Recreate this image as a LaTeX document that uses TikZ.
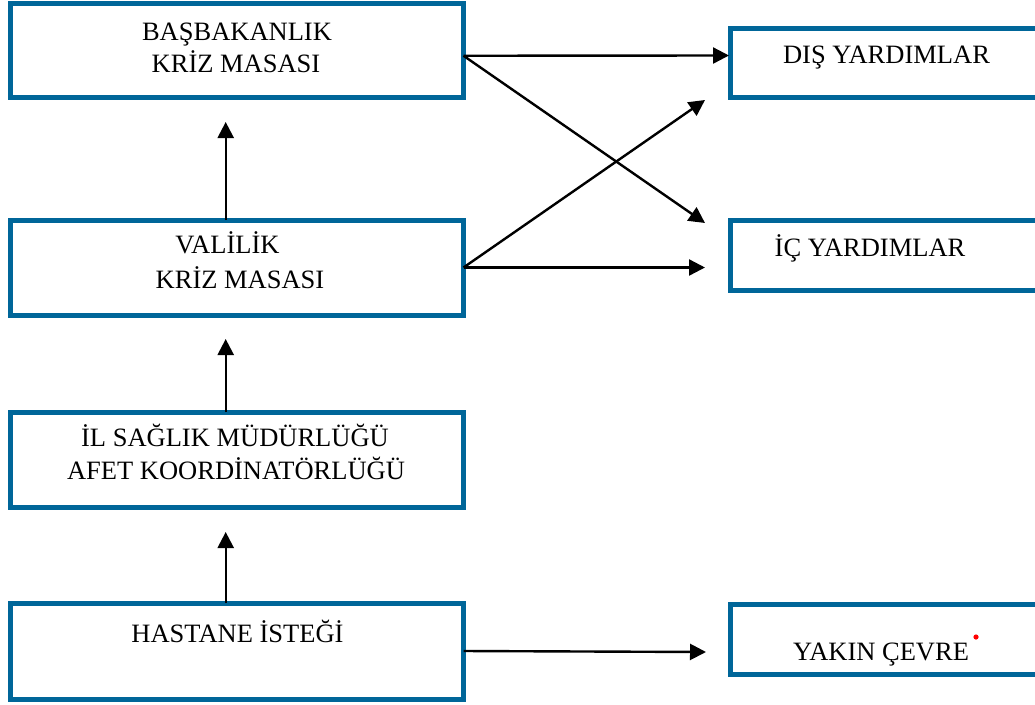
\documentclass[tikz,border=0pt]{standalone}
\usepackage{fontspec}
\setmainfont{Liberation Serif}
\usetikzlibrary{arrows.meta}
\definecolor{boxblue}{RGB}{0,102,153}
\tikzset{
  box/.style={draw=boxblue, line width=5pt, rectangle, outer sep=0pt, inner sep=0pt},
  lbox/.style={box, minimum width=453pt, minimum height=94pt},
  rbox/.style={box, minimum width=314.5pt, minimum height=70pt},
  lbl/.style={inner sep=0pt, outer sep=0pt, anchor=base, font=\fontsize{26.5}{32}\selectfont},
  arr/.style={line width=2.4pt, -{Triangle[length=16pt,width=16pt]}},
}
\begin{document}
\begin{tikzpicture}[x=1pt,y=-1pt]
\useasboundingbox (0,0) rectangle (1035,704);
\clip (0,0) rectangle (1035,704);
% left boxes
\node[lbox, minimum height=93.5pt] (b1) at (237,50.25) {};
\node[lbox, minimum height=95pt] (v) at (237,267.5) {};
\node[lbox, minimum height=95pt] (il) at (237,459.5) {};
\node[lbox, minimum height=96pt] (h) at (237,651) {};
% right boxes
\node[rbox, minimum height=69pt] (d) at (887.75,62.5) {};
\node[rbox] (i) at (887.75,255.5) {};
\node[rbox] (yk) at (887.75,639.5) {};
% labels
\node[lbl] (t1a) at (237,40) {BAŞBAKANLIK};
\node[lbl] (t1b) at (236,72) {KRİZ MASASI};
\node[lbl] (t2a) at (227.5,253) {VALİLİK};
\node[lbl] (t2b) at (240,288) {KRİZ MASASI};
\node[lbl] (t3a) at (235,446.5) {İL SAĞLIK MÜDÜRLÜĞÜ};
\node[lbl] (t3b) at (236,479) {AFET KOORDİNATÖRLÜĞÜ};
\node[lbl] (t4) at (237.5,642) {HASTANE İSTEĞİ};
\node[lbl] (td) at (886.5,63) {DIŞ YARDIMLAR};
\node[lbl] (ti) at (870,256) {İÇ YARDIMLAR};
\node[lbl] (ty) at (881,660) {YAKIN ÇEVRE};
\fill[red] (976,637) circle (2.6pt);
% vertical arrows
\draw[arr] ([xshift=-11.3pt]v.north) -- ([xshift=-11.3pt,yshift=-25pt]b1.south);
\draw[arr] ([xshift=-11.3pt]il.north) -- ([xshift=-11.3pt,yshift=-24pt]v.south);
\draw[arr] ([xshift=-11.3pt]h.north) -- ([xshift=-11.3pt,yshift=-25pt]il.south);
% right arrows
\draw[arr] ([yshift=-5.5pt]b1.east) -- ([yshift=7pt,xshift=-1.5pt]d.west);
\draw[arr] ([yshift=-5.5pt]b1.east) -- ([xshift=-25.5pt,yshift=-2.5pt]i.north west);
\draw[arr] (v.east) -- ([xshift=-25.5pt,yshift=-3pt]d.south west);
\draw[arr] (v.east) -- ([xshift=-25.5pt,yshift=-12pt]i.west);
\draw[arr] (h.east) -- ([xshift=-24.5pt,yshift=-12.5pt]yk.west);
\end{tikzpicture}
\end{document}
